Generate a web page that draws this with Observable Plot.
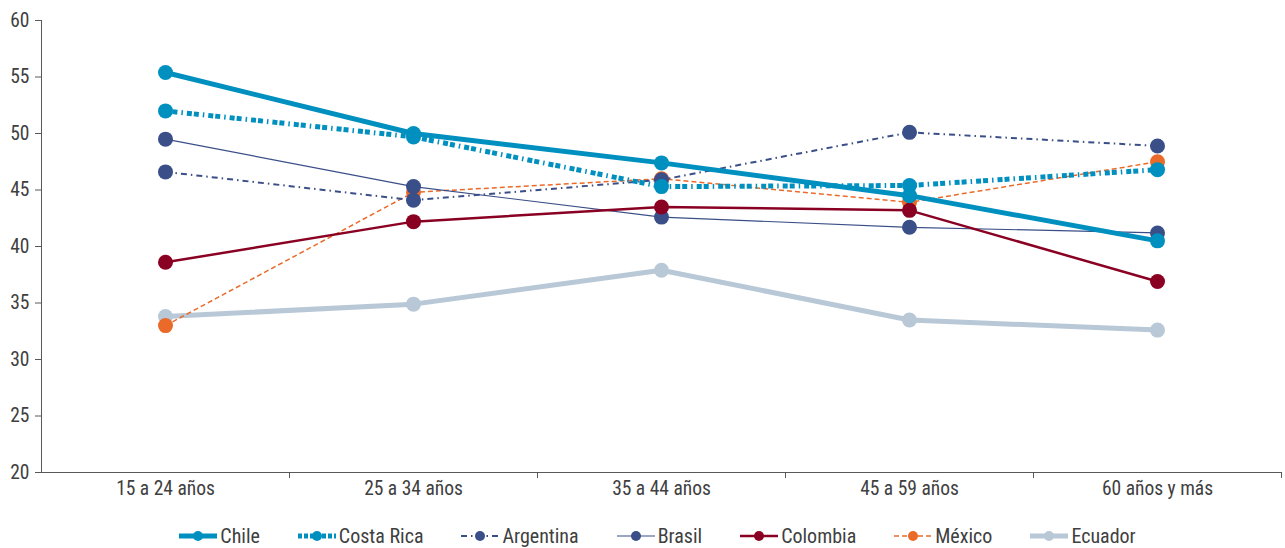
<!DOCTYPE html>
<html><head><meta charset="utf-8">
<script src="https://cdn.jsdelivr.net/npm/d3@7"></script>
<script src="https://cdn.jsdelivr.net/npm/@observablehq/plot@0.6"></script>
<style>
body{margin:0;background:#fff;font-family:"Roboto Condensed",Roboto,sans-serif;}
#legend{display:flex;justify-content:center;align-items:center;gap:38px;height:38px;margin-top:7px;font-size:20px;color:#404040;padding-left:30px;}
.item{display:flex;align-items:center;gap:3px;}
</style></head>
<body><div id="chart"></div><div id="legend"></div>
<script>
const categories = ["15 a 24 años","25 a 34 años","35 a 44 años","45 a 59 años","60 años y más"];
const chile      = [55.4, 50.0, 47.4, 44.5, 40.5];
const costaRica  = [52.0, 49.7, 45.3, 45.4, 46.8];
const argentina  = [46.6, 44.1, 45.9, 50.1, 48.9];
const brasil     = [49.5, 45.3, 42.6, 41.7, 41.2];
const colombia   = [38.6, 42.2, 43.5, 43.2, 36.9];
const mexico     = [33.0, 44.8, 46.0, 43.9, 47.5];
const ecuador    = [33.8, 34.9, 37.9, 33.5, 32.6];
const yTicks = [20,25,30,35,40,45,50,55,60];

const series = [
  {name:"Chile", values:chile, color:"#0090C0", width:5, dash:null, r:7.5},
  {name:"Costa Rica", values:costaRica, color:"#0090C0", width:5, dash:"5,2,5,4,1.5,4", r:7.5},
  {name:"Argentina", values:argentina, color:"#3A4E88", width:2, dash:"6,4,1.5,4", r:7.5},
  {name:"Brasil", values:brasil, color:"#3A4E88", width:1.2, dash:null, r:7.5},
  {name:"Colombia", values:colombia, color:"#8A0022", width:2.5, dash:null, r:7.5},
  {name:"México", values:mexico, color:"#EA6A2A", width:1.5, dash:"5,3", r:7.5},
  {name:"Ecuador", values:ecuador, color:"#B8C8D6", width:5, dash:null, r:7.5}
];
const drawOrder = ["Ecuador","México","Argentina","Brasil","Colombia","Costa Rica","Chile"];

const marks = [];
for (const n of drawOrder) {
  const s = series.find(d => d.name === n);
  const data = categories.map((c,i) => ({cat:c, v:s.values[i]}));
  marks.push(Plot.line(data, {x:"cat", y:"v", stroke:s.color, strokeWidth:s.width, strokeDasharray:s.dash, strokeLinecap:"butt"}));
  marks.push(Plot.dot(data, {x:"cat", y:"v", fill:s.color, r:s.r}));
}

const chart = Plot.plot({
  width:1285, height:510,
  marginLeft:41, marginRight:4, marginTop:20, marginBottom:38,
  style:{fontFamily:'"Roboto Condensed",Roboto,sans-serif', fontSize:"19.5px", color:"#404040"},
  x:{type:"point", domain:categories, padding:0.5},
  y:{domain:[20,60]},
  marks:[
    Plot.frame({anchor:"left", stroke:"#595959"}),
    Plot.frame({anchor:"bottom", stroke:"#595959"}),
    Plot.axisY(yTicks, {tickSize:6, tickPadding:6, label:null, stroke:"#595959"}),
    Plot.axisX({tickSize:0, tickPadding:9, label:null}),
    Plot.axisX({tickSize:6, tickFormat:() => "", dx:124, label:null, stroke:"#595959"}),
    ...marks
  ]
});
document.getElementById("chart").appendChild(chart);

const leg = document.getElementById("legend");
for (const s of series) {
  const it = document.createElement("div"); it.className = "item";
  const sw = `<svg width="38" height="14"><line x1="0" x2="38" y1="7" y2="7" stroke="${s.color}" stroke-width="${s.width}" ${s.dash?`stroke-dasharray="${s.name==="Costa Rica"?"4,2":s.dash}"`:""}/><circle cx="19" cy="7" r="5" fill="${s.color}"/></svg>`;
  it.innerHTML = sw + `<span>${s.name}</span>`;
  leg.appendChild(it);
}
</script></body></html>
